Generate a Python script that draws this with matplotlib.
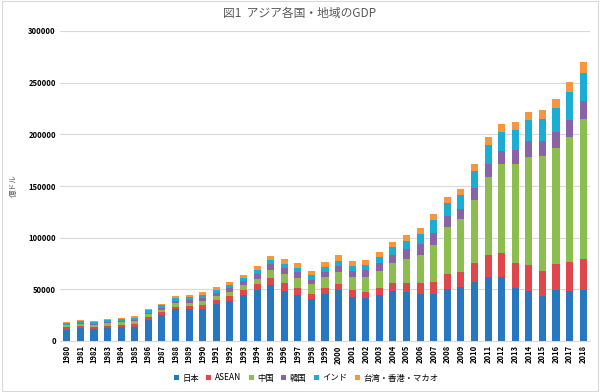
import numpy as np
import matplotlib
matplotlib.use("Agg")
import matplotlib.pyplot as plt
from matplotlib.patches import Rectangle

plt.rcParams['font.family'] = ['Noto Sans CJK JP', 'DejaVu Sans']

# 単位: 億ドル
years = list(range(1980, 2019))
japan = [11050, 12180, 11340, 12430, 13180, 13990, 20780, 25320, 30720, 30540,
         31330, 35840, 39090, 44540, 49070, 54490, 48340, 44160, 40330, 45620,
         48880, 43040, 41160, 44450, 48150, 47550, 45300, 45150, 50380, 52310,
         57000, 61570, 62030, 51550, 48500, 43890, 49270, 48600, 49710]
asean = [2100, 2250, 2300, 2300, 2400, 2250, 2100, 2300, 2650, 3050,
         3550, 3950, 4450, 4950, 5650, 6900, 7500, 7000, 5000, 5700,
         6200, 5900, 6400, 7100, 8000, 8900, 10400, 12300, 14400, 14500,
         18300, 21500, 23500, 24300, 25000, 24300, 25600, 27800, 29500]
china = [1910, 1960, 2050, 2310, 2590, 3090, 3000, 2720, 3120, 3480,
         3610, 3830, 4270, 4450, 5640, 7340, 8630, 9620, 10290, 10940,
         12110, 13390, 14710, 16600, 19550, 22860, 27520, 35500, 45940, 51020,
         60870, 75520, 85320, 95700, 104760, 110620, 112330, 121500, 135800]
korea = [650, 720, 780, 880, 970, 1010, 1160, 1470, 1990, 2460,
         2830, 3300, 3560, 3920, 4630, 5660, 6100, 5700, 3830, 4970,
         5760, 5480, 6270, 7030, 7930, 9350, 10530, 11720, 10470, 9440,
         11440, 12530, 12780, 13700, 14840, 14660, 15000, 16240, 17250]
india = [1890, 1970, 2040, 2220, 2150, 2370, 2530, 2830, 3010, 3010,
         3270, 2750, 2930, 2840, 3330, 3670, 4000, 4230, 4290, 4660,
         4770, 4940, 5240, 6180, 7220, 8340, 9490, 12390, 12240, 13650,
         17080, 18230, 18280, 18570, 20390, 21040, 22950, 26510, 27130]
others = [720, 780, 800, 830, 920, 1000, 1200, 1500, 1800, 2100,
          2460, 2800, 3250, 3550, 3900, 4260, 4550, 4800, 4450, 4550,
          5090, 4800, 4850, 4950, 5300, 5690, 5900, 6200, 6400, 6200,
          7010, 7700, 7900, 8150, 8500, 8880, 9100, 9600, 10270]

labels = ['日本', 'ASEAN', '中国', '韓国', 'インド', '台湾・香港・マカオ']
series = [japan, asean, china, korea, india, others]
colors = ['#2778C0', '#E0474C', '#8DBD4E', '#8A62A8', '#1CAED2', '#F7963D']

fig = plt.figure(figsize=(6, 3.92), dpi=100)
fig.patches.append(Rectangle((0.003, 0.003), 0.994, 0.994, transform=fig.transFigure,
                             fill=False, edgecolor='#D9D9D9', linewidth=0.8))
ax = fig.add_axes([60 / 600, 1 - 341 / 392, 530 / 600, 310 / 392])

x = np.arange(len(years))
bottom = np.zeros(len(years))
for vals, lab, col in zip(series, labels, colors):
    ax.bar(x, vals, width=0.52, bottom=bottom, color=col, label=lab, zorder=3)
    bottom += np.array(vals)

ax.set_xlim(-0.5, len(years) - 0.5)
ax.set_ylim(0, 300000)
ax.set_yticks(range(0, 300001, 50000))
ax.set_yticklabels([str(v) for v in range(0, 300001, 50000)],
                   fontsize=5.5, fontweight='bold')
ax.set_xticks(x)
ax.set_xticklabels([str(y) for y in years], rotation=90, fontsize=5.5, fontweight='bold')
ax.tick_params(axis='both', length=0, pad=3)
ax.grid(axis='y', color='#D9D9D9', linewidth=0.8, zorder=0)
for s in ['top', 'right', 'left']:
    ax.spines[s].set_visible(False)
ax.spines['bottom'].set_color('#D9D9D9')

ax.set_ylabel('億ドル', fontsize=5.5, color='#595959', labelpad=4)
ax.yaxis.set_label_coords(-0.08, 0.5)

fig.text(0.5, 1 - 14 / 392, '図1  アジア各国・地域のGDP', ha='center', va='center',
         fontsize=8.5, color='#595959')

fig.legend(loc='center', bbox_to_anchor=(0.51, 1 - 378 / 392), ncol=6, frameon=False,
           fontsize=6, handlelength=0.6, handleheight=0.6, handletextpad=0.4,
           columnspacing=0.9)

fig.savefig('out.png', dpi=100)
